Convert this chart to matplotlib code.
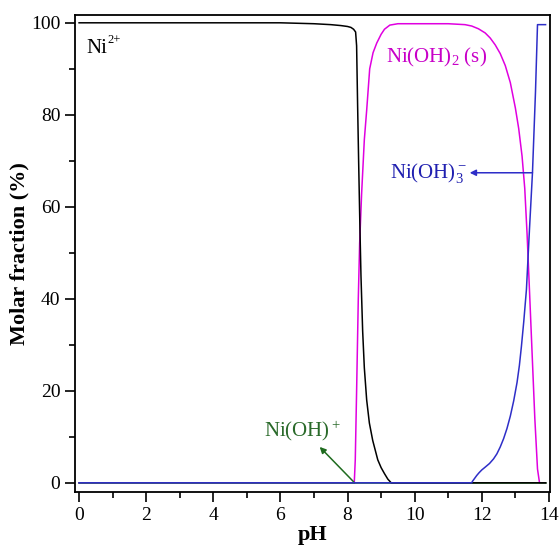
import matplotlib
matplotlib.use('Agg')
import matplotlib.pyplot as plt
from matplotlib.ticker import MultipleLocator

plt.rcParams['font.family'] = 'Liberation Serif'
plt.rcParams['mathtext.fontset'] = 'custom'
plt.rcParams['mathtext.rm'] = 'Liberation Serif'
plt.rcParams['mathtext.it'] = 'Liberation Serif:italic'
plt.rcParams['mathtext.bf'] = 'Liberation Serif:bold'

# Species distribution (pH, molar fraction %)
ph_ni = [0, 2, 4, 6, 6.5, 7.0, 7.5, 7.8, 8.0, 8.1, 8.18, 8.24, 8.27, 8.3, 8.33,
         8.37, 8.4, 8.45, 8.5, 8.57, 8.65, 8.75, 8.9, 9.0, 9.1, 9.2, 9.3, 13.9]
ni = [100, 100, 100, 100, 99.9, 99.8, 99.6, 99.4, 99.2, 99.0, 98.6, 98.0, 95, 82, 70,
      55, 45, 33, 25, 18, 13, 9.2, 5, 3.3, 2.0, 0.8, 0, 0]

ph_nioh2 = [0, 8.2, 8.23, 8.27, 8.32, 8.36, 8.42, 8.5, 8.57, 8.66, 8.76, 8.87,
            9.0, 9.1, 9.26, 9.5, 11.0, 11.5, 11.7, 11.9, 12.1, 12.25, 12.4,
            12.55, 12.7, 12.85, 13.0, 13.1, 13.2, 13.28, 13.35, 13.42, 13.5,
            13.58, 13.66, 13.72, 13.9]
nioh2 = [0, 0, 5, 20, 40, 52, 63, 74.6, 81, 90, 93.5, 95.6,
         97.5, 98.6, 99.5, 99.8, 99.8, 99.6, 99.3, 98.7, 97.8, 96.7, 95.2,
         93.3, 90.7, 87, 81.5, 77, 71, 64, 54, 42, 28,
         14, 3, 0, 0]

ph_nioh3 = [0, 11.7, 11.72, 11.78, 11.85, 11.92, 12.0, 12.1, 12.23, 12.35, 12.45,
            12.55, 12.65, 12.75, 12.85, 12.95, 13.05, 13.12, 13.18, 13.25, 13.33,
            13.42, 13.51, 13.6, 13.66, 13.9]
nioh3 = [0, 0, 0.3, 0.9, 1.6, 2.2, 2.8, 3.4, 4.2, 5.2, 6.3,
         7.8, 9.6, 11.8, 14.5, 17.8, 21.8, 25.5, 29.6, 35, 42,
         55, 67.4, 85, 99.6, 99.6]

ph_nioh = [0, 8.2, 11.7, 13.9]
nioh = [0, 0, 0, 0]

c_mag = '#E000E0'
c_blue = '#2E2EC8'
c_green = '#1F6B1F'

fig = plt.figure(figsize=(5.6, 5.55), dpi=100)
ax = fig.add_axes([0.134, 0.1135, 0.848, 0.8595])

ax.plot(ph_nioh2, nioh2, color=c_mag, lw=1.1, zorder=2)
ax.plot(ph_nioh, nioh, color=c_green, lw=1.1, zorder=3)
ax.plot(ph_ni, ni, color='black', lw=1.1, zorder=4)
ax.plot(ph_nioh3, nioh3, color=c_blue, lw=1.1, zorder=5)

ax.set_xlim(-0.12, 14.03)
ax.set_ylim(-2, 101.7)
ax.xaxis.set_major_locator(MultipleLocator(2))
ax.xaxis.set_minor_locator(MultipleLocator(1))
ax.yaxis.set_major_locator(MultipleLocator(20))
ax.yaxis.set_minor_locator(MultipleLocator(10))
ax.tick_params(which='major', direction='out', length=7, width=1.2, labelsize=14)
ax.tick_params(which='minor', direction='out', length=4, width=1.2)
for s in ax.spines.values():
    s.set_linewidth(1.3)

ax.set_xlabel('pH', fontsize=16, fontweight='bold', labelpad=1)
ax.set_ylabel('Molar fraction (%)', fontsize=16, fontweight='bold', labelpad=1)

# labels
ax.text(0.22, 93.5, 'Ni', fontsize=15, color='black', va='baseline')
ax.text(0.84, 95.7, '2+', fontsize=9, color='black', va='baseline')
ax.text(10.64, 91.3, r'$\mathrm{Ni(OH)_2\ (s)}$', fontsize=15, color='#C800C8',
        ha='center', va='baseline')
ax.text(11.55, 66.3, r'$\mathrm{Ni(OH)_3^-}$', fontsize=15, color='#2020B0',
        ha='right', va='baseline')
ax.annotate('', xy=(11.64, 67.4), xytext=(13.51, 67.4),
            arrowprops=dict(arrowstyle='-|>', color=c_blue, lw=1.1,
                            mutation_scale=9, shrinkA=0, shrinkB=0))
ax.text(6.64, 10, r'$\mathrm{Ni(OH)^+}$', fontsize=15, color='#2A6A2A',
        ha='center', va='baseline')
ax.annotate('', xy=(7.17, 7.8), xytext=(8.21, 0),
            arrowprops=dict(arrowstyle='-|>', color=c_green, lw=1.1,
                            mutation_scale=9, shrinkA=0, shrinkB=0))

fig.savefig('out.png', dpi=100)
